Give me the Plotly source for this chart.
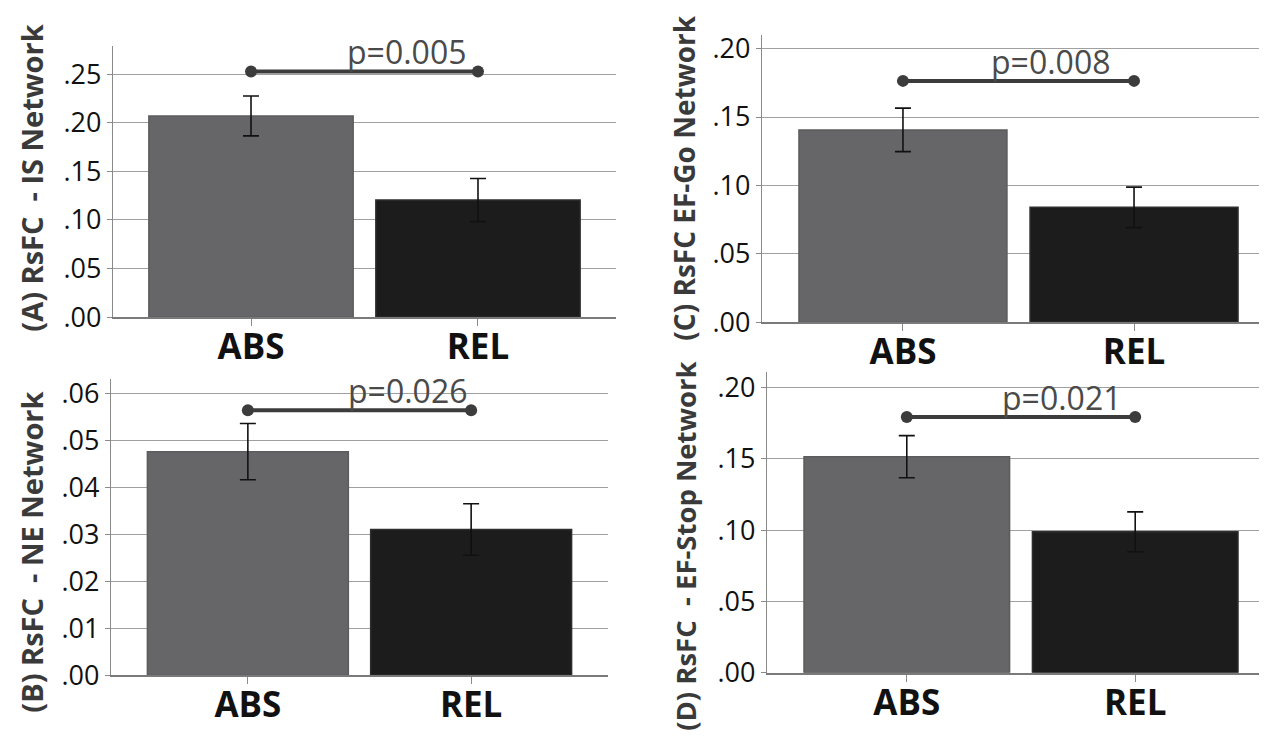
import plotly.graph_objects as go

W, H = 1267, 736

# ---------------- data ----------------
categories = ["ABS", "REL"]

panel_ids = ["A", "B", "C", "D"]
titles = {
    "A": "(A) RsFC \u00a0- IS Network",
    "B": "(B) RsFC \u00a0- NE Network",
    "C": "(C) RsFC EF-Go Network",
    "D": "(D) RsFC \u00a0- EF-Stop Network",
}
means = {
    "A": [0.207, 0.1205],
    "B": [0.0477, 0.0311],
    "C": [0.1406, 0.0840],
    "D": [0.1516, 0.0989],
}
sem = {
    "A": [0.0205, 0.0222],
    "B": [0.0060, 0.0055],
    "C": [0.0159, 0.0148],
    "D": [0.0148, 0.0140],
}
p_text = {"A": "p=0.005", "B": "p=0.026", "C": "p=0.008", "D": "p=0.021"}
p_level = {"A": 0.2527, "B": 0.0565, "C": 0.1764, "D": 0.1794}
tick_vals = {
    "A": [0.00, 0.05, 0.10, 0.15, 0.20, 0.25],
    "B": [0.00, 0.01, 0.02, 0.03, 0.04, 0.05, 0.06],
    "C": [0.00, 0.05, 0.10, 0.15, 0.20],
    "D": [0.00, 0.05, 0.10, 0.15, 0.20],
}
tick_text = {
    "A": [".00", ".05", ".10", ".15", ".20", ".25"],
    "B": [".00", ".01", ".02", ".03", ".04", ".05", ".06"],
    "C": [".00", ".05", ".10", ".15", ".20"],
    "D": [".00", ".05", ".10", ".15", ".20"],
}
y_max = {"A": 0.2785, "B": 0.0632, "C": 0.2099, "D": 0.2107}

# ---------------- layout geometry (pixels) ----------------
geom = {  # left, right, top, bottom of plot area; x half-extent
    "A": (105, 608, 33.4, 313.0, 0.608),
    "B": (103, 600, 376.7, 682.7, 0.613),
    "C": (754, 1267, 21.7, 318.3, 0.61),
    "D": (759, 1267, 370.0, 680.0, 0.612),
}
title_pos = {"A": (24, 170), "B": (24, 556), "C": (676, 170), "D": (678, 549)}
title_size = {"A": 29, "B": 29, "C": 28, "D": 27.5}
p_xoff = {"A": 0.687, "B": 0.716, "C": 0.64, "D": 0.678}

bar_colors = ["#666668", "#1c1c1c"]
bar_lines = ["#5c5c5e", "#2e2e2e"]
FONT = "Open Sans"

fig = go.Figure()
layout = dict(
    width=W, height=H,
    margin=dict(l=0, r=0, t=0, b=0),
    paper_bgcolor="white", plot_bgcolor="white",
    showlegend=False,
    font=dict(family=FONT, color="#1a1a1a"),
)
annotations = []

for i, pid in enumerate(panel_ids):
    n = "" if i == 0 else str(i + 1)
    xa, ya = "x" + n, "y" + n
    left, right, top, bottom, half = geom[pid]
    xs = list(range(len(categories)))

    fig.add_trace(go.Bar(
        x=xs, y=means[pid], width=0.9,
        marker=dict(color=bar_colors, line=dict(color=bar_lines, width=1.5)),
        error_y=dict(type="data", array=sem[pid], color="#111111",
                     thickness=1.6, width=8),
        xaxis=xa, yaxis=ya, hoverinfo="skip",
    ))
    # significance bracket
    fig.add_trace(go.Scatter(
        x=[xs[0], xs[1]], y=[p_level[pid], p_level[pid]],
        mode="lines+markers",
        line=dict(color="#3c3c3c", width=4),
        marker=dict(color="#3c3c3c", size=12),
        xaxis=xa, yaxis=ya, hoverinfo="skip",
    ))
    annotations.append(dict(
        x=p_xoff[pid], y=p_level[pid], xref=xa, yref=ya,
        text=p_text[pid], showarrow=False, xanchor="center", yanchor="bottom",
        yshift=-4,
        font=dict(family=FONT, size=32, color="#4a4a4a"),
    ))
    tx, ty = title_pos[pid]
    annotations.append(dict(
        x=tx / W, y=1 - ty / H, xref="paper", yref="paper",
        text=titles[pid], textangle=-90, showarrow=False,
        xanchor="center", yanchor="middle",
        font=dict(family=FONT, size=title_size[pid], color="#3a3a3a",
                  weight="bold"),
    ))

    layout["xaxis" + n] = dict(
        domain=[left / W, right / W], anchor=ya,
        range=[-half, 1 + half],
        tickvals=xs, ticktext=categories,
        tickfont=dict(family=FONT, size=35, color="#111111", weight="bold"),
        ticklabelstandoff=-9,
        showline=True, linecolor="#7a7a7a", linewidth=1.5,
        ticks="outside", ticklen=7, tickcolor="#8a8a8a", tickwidth=1,
        showgrid=False, zeroline=False, fixedrange=True,
    )
    layout["yaxis" + n] = dict(
        domain=[1 - bottom / H, 1 - top / H], anchor=xa,
        range=[0, y_max[pid]],
        tickvals=tick_vals[pid], ticktext=tick_text[pid],
        tickfont=dict(family=FONT, size=27, color="#111111"),
        showline=True, linecolor="#8a8a8a", linewidth=1.2,
        ticks="outside", ticklen=5, tickcolor="#8a8a8a",
        showgrid=True, gridcolor="#a0a0a0", gridwidth=1.2,
        zeroline=False, fixedrange=True,
    )

layout["annotations"] = annotations
fig.update_layout(**layout)
fig.write_html("out.html")
